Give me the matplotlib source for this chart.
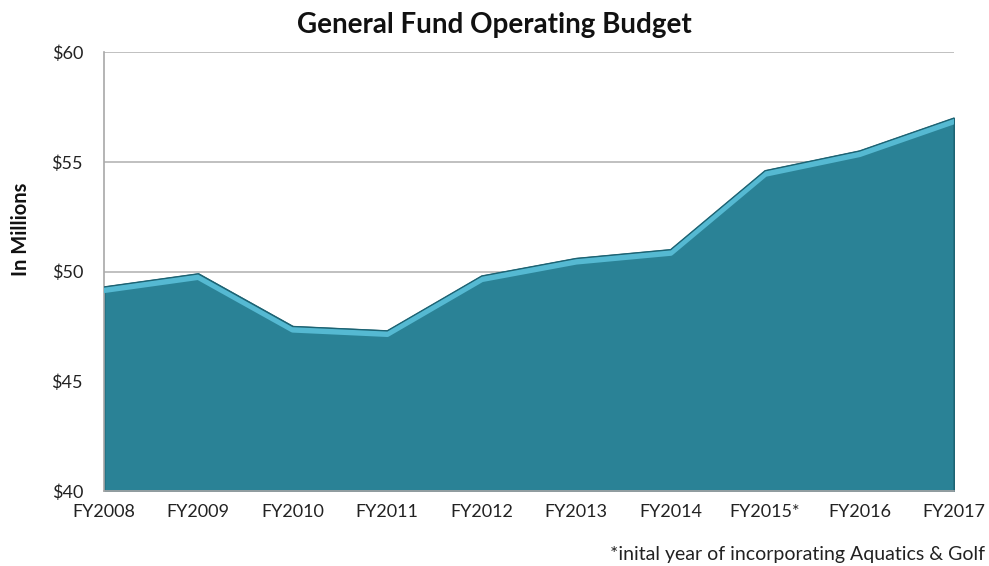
import matplotlib.pyplot as plt
import matplotlib.transforms as mtransforms
import numpy as np

plt.rcParams['font.family'] = ['Lato', 'DejaVu Sans']

years = ['FY2008', 'FY2009', 'FY2010', 'FY2011', 'FY2012',
         'FY2013', 'FY2014', 'FY2015*', 'FY2016', 'FY2017']
budget = [49.3, 49.9, 47.5, 47.3, 49.8, 50.6, 51.0, 54.6, 55.5, 57.0]
y_ticks = [40, 45, 50, 55, 60]

fill_color = '#2a8296'
edge_color = '#1d6373'
bevel_color = '#55b9d2'

fig = plt.figure(figsize=(9.89, 5.66), dpi=100)
ax = fig.add_axes([0.105, 0.1325, 0.8596, 0.7751])

x = np.arange(len(years))

ax.yaxis.grid(True, color='#b5b5b5', linewidth=1.2, zorder=0)
ax.set_axisbelow(True)

area = ax.fill_between(x, 40, budget, color=fill_color, edgecolor=edge_color,
                       linewidth=1.5, zorder=2)

# light bevel along the top edge, shifted a few pixels down into the area
shift = mtransforms.offset_copy(ax.transData, fig=fig, x=0, y=-3, units='dots')
bevel, = ax.plot(x, budget, color=bevel_color, linewidth=4.5,
                 solid_joinstyle='round', transform=shift, zorder=3)
bevel.set_clip_path(area.get_paths()[0], ax.transData)
ax.plot(x, budget, color=edge_color, linewidth=1.0, zorder=4)

ax.set_xlim(0, len(years) - 1)
ax.set_ylim(40, 60)
ax.set_xticks(x)
ax.set_xticklabels(years)
ax.set_yticks(y_ticks)
ax.set_yticklabels(['${}'.format(v) for v in y_ticks])
ax.tick_params(axis='both', length=0, labelsize=13, labelcolor='#222222')
ax.tick_params(axis='y', pad=15)
ax.tick_params(axis='x', pad=9)

for side in ['top', 'right']:
    ax.spines[side].set_visible(False)
for side in ['left', 'bottom']:
    ax.spines[side].set_color('#a8a8a8')
    ax.spines[side].set_linewidth(1.2)

fig.text(0.4995, 0.955, 'General Fund Operating Budget', ha='center',
         va='center', fontsize=20, fontweight='bold', color='#111111')
fig.text(0.021, 0.594, 'In Millions', rotation=90, ha='center', va='center',
         fontsize=14.5, fontweight='bold', color='#111111')
fig.text(0.996, 0.02, '*inital year of incorporating Aquatics & Golf',
         ha='right', va='center', fontsize=14, color='#222222')

fig.savefig('out.png', dpi=100)
